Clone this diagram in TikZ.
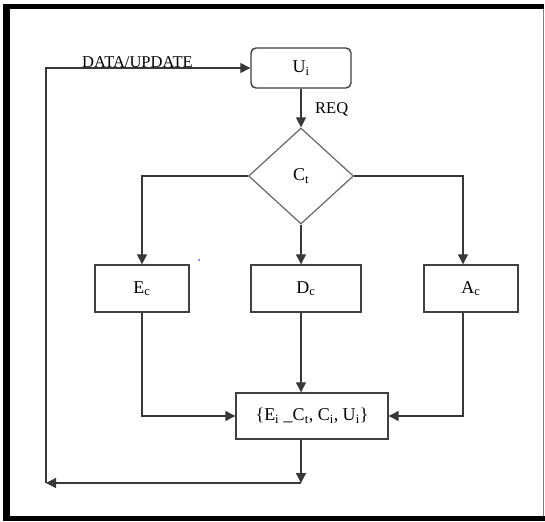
\documentclass[tikz,border=0pt]{standalone}
\usepackage{fontspec}
\setmainfont{Liberation Serif}
\usetikzlibrary{shapes.geometric,arrows.meta,calc}
\newcommand{\sbs}[1]{\textsubscript{#1}}
\begin{document}
\begin{tikzpicture}[x=1pt,y=-1pt,
  line/.style={draw=black!78,line width=1.3pt},
  arr/.style={line,-{Triangle[length=10pt,width=10pt]}},
  boxst/.style={draw=black!75,line width=1.4pt,fill=white,minimum height=47pt,inner sep=0pt,
    font=\fontsize{18}{21}\selectfont},
  lbl/.style={font=\fontsize{16.5}{19}\selectfont,inner sep=0pt}]
\useasboundingbox (0,0) rectangle (545,521);
\fill[white] (0,0) rectangle (545,521);
% frame
\fill[black] (3,4) rectangle (10,521);
\fill[black] (3,4) rectangle (543.5,9.5);
\fill[black] (3,515.5) rectangle (545,521);
\draw[black!50,line width=1pt] (543,9) -- (543,516);
% nodes
\node[boxst,rounded corners=5pt,minimum width=100pt,minimum height=40pt] (ui) at (301,68) {U\sbs{i}};
\node[diamond,draw=black!60,line width=1.2pt,minimum width=105pt,minimum height=96pt,inner sep=0pt,
  font=\fontsize{18}{21}\selectfont] (ct) at (301,176) {C\sbs{t}};
\node[boxst,minimum width=94pt] (ec) at (142,288.5) {E\sbs{c}};
\node[boxst,minimum width=110pt] (dc) at (306,288.5) {D\sbs{c}};
\node[boxst,minimum width=94pt] (ac) at (471,288.5) {A\sbs{c}};
\node[boxst,minimum width=152pt,minimum height=46pt] (fu) at (312,416) {\{E\sbs{i} \_C\sbs{t}, C\sbs{i}, U\sbs{i}\}};
\coordinate (acin) at ($(ac.north)+(-8,0)$);
\coordinate (dcin) at ($(dc.north)+(-5,0)$);
\coordinate (dcout) at ($(dc.south)+(-5,0)$);
\coordinate (acout) at ($(ac.south)+(-8,0)$);
\coordinate (fuout) at ($(fu.south)+(-11,0)$);
\coordinate (fuin) at ($(fu.north)+(-11,0)$);
\coordinate (bot) at (301,483);
\coordinate (lft) at (46,483);
% connectors
\draw[arr] (ui.south) -- (ct.north);
\draw[arr] (ct.west) -| (ec.north);
\draw[arr] (ct.south) -- (dcin);
\draw[arr] (ct.east) -| (acin);
\draw[arr] (ec.south) |- (fu.west);
\draw[arr] (dcout) -- (fuin);
\draw[arr] (acout) |- (fu.east);
\draw[arr] (fuout) -- (bot);
\draw[arr] (bot) -- (lft);
\draw[arr] (lft) |- (ui.west);
% labels
\node[lbl,anchor=base] at (137.5,68) {DATA/UPDATE};
\node[lbl,anchor=base west] at (315,114) {REQ};
\fill[blue!70] (199,260) circle (1pt);
\end{tikzpicture}
\end{document}
